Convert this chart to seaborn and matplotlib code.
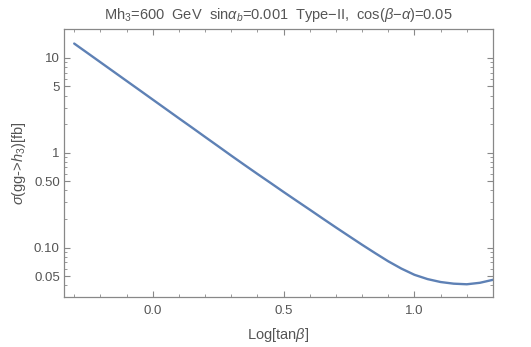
import numpy as np
import pandas as pd
import matplotlib
matplotlib.use("Agg")
import matplotlib.pyplot as plt
import matplotlib.ticker as mticker
import seaborn as sns

# Data
log_tan_beta = [-0.30, -0.25, -0.20, -0.15, -0.10, -0.05, 0.00, 0.05, 0.10, 0.15, 0.20,
                0.25, 0.30, 0.35, 0.40, 0.45, 0.50, 0.55, 0.60, 0.65, 0.70, 0.75,
                0.80, 0.85, 0.90, 0.95, 1.00, 1.05, 1.10, 1.15, 1.20, 1.25, 1.30]
sigma_fb = [14.19, 11.32, 9.02, 7.19, 5.73, 4.57, 3.64, 2.90, 2.31, 1.845, 1.469,
            1.172, 0.933, 0.746, 0.598, 0.481, 0.386, 0.311, 0.251, 0.202, 0.163, 0.132,
            0.107, 0.0873, 0.0716, 0.0600, 0.0516, 0.0465, 0.0433, 0.0416, 0.0410, 0.0425, 0.0457]

y_ticks = [10, 5, 1, 0.5, 0.1, 0.05]
y_tick_labels = ["10", "5", "1", "0.50", "0.10", "0.05"]
x_ticks = [0.0, 0.5, 1.0]
x_tick_labels = ["0.0", "0.5", "1.0"]

title = r"Mh$_3$=600  GeV  sin$\alpha_b$=0.001  Type$-$II,  cos($\beta$$-$$\alpha$)=0.05"
xlabel = r"Log[tan$\beta$]"
ylabel = r"$\sigma$(gg->$h_3$)[fb]"

sns.set_style("white")
plt.rcParams["font.family"] = ["Liberation Sans", "DejaVu Sans"]
plt.rcParams["mathtext.fontset"] = "custom"
plt.rcParams["mathtext.rm"] = "Liberation Sans"
plt.rcParams["mathtext.it"] = "Liberation Sans:italic"

df = pd.DataFrame({"x": log_tan_beta, "y": sigma_fb})

fig = plt.figure(figsize=(5.31, 3.47), dpi=100)
ax = fig.add_axes([0.1205, 0.1441, 0.8079, 0.7723])
sns.lineplot(data=df, x="x", y="y", ax=ax, color="#5E81B5", linewidth=1.7)

ax.set_yscale("log")
ax.set_xlim(-0.339, 1.30)
ax.set_ylim(0.0301, 20.2)

text_color = "#555555"
frame_color = "#888888"
ax.set_yticks(y_ticks)
ax.set_yticklabels(y_tick_labels)
ax.yaxis.set_minor_locator(mticker.LogLocator(base=10, subs=np.arange(2, 10), numticks=20))
ax.yaxis.set_minor_formatter(mticker.NullFormatter())
ax.set_xticks(x_ticks)
ax.set_xticklabels(x_tick_labels)
ax.xaxis.set_minor_locator(mticker.MultipleLocator(0.1))

ax.tick_params(axis="both", which="both", direction="in", top=True, right=True,
               bottom=True, left=True,
               colors=frame_color, labelcolor=text_color, labelsize=9.5)
ax.tick_params(axis="both", which="major", length=4.5, width=0.8)
ax.tick_params(axis="both", which="minor", length=2.5, width=0.6)
ax.tick_params(axis="x", which="both", pad=6)
ax.tick_params(axis="y", which="both", pad=3)
ax.tick_params(labeltop=False, labelright=False)
for s in ax.spines.values():
    s.set_color(frame_color)
    s.set_linewidth(0.9)

ax.set_xlabel(xlabel, color=text_color, fontsize=10.5, labelpad=6)
ax.set_ylabel(ylabel, color=text_color, fontsize=10.5, labelpad=4)
ax.set_title(title, color=text_color, fontsize=10.5, pad=7)

fig.savefig("out.png", dpi=100)
